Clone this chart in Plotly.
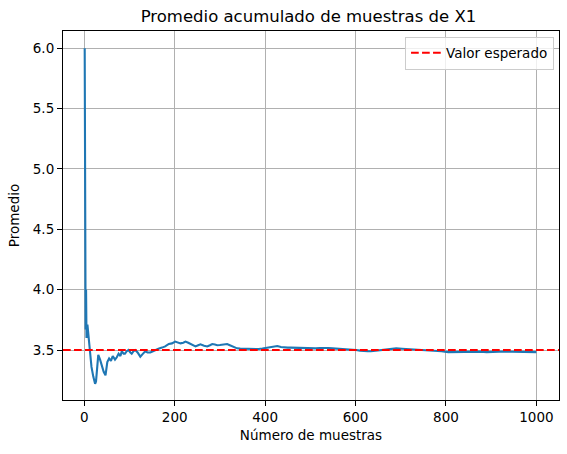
import plotly.graph_objects as go

# Sample counts and cumulative averages
n_samples = [1, 2, 3, 4, 5, 7, 10, 13, 16, 20, 24, 26, 28, 31, 35, 38, 43, 47, 51, 55, 59, 63, 68, 72,
             76, 80, 83, 87, 90, 94, 98, 102, 105, 109, 113, 118, 124, 130, 135, 140, 146, 152, 157,
             164, 172, 179, 187, 194, 201, 207, 213, 219, 224, 230, 235, 241, 246, 252, 257, 265,
             272, 278, 283, 289, 294, 300, 305, 311, 316, 322, 327, 333, 338, 345, 353, 360, 368,
             377, 386, 394, 401, 409, 416, 421, 427, 435, 442, 450, 457, 466, 475, 485, 494, 503,
             512, 521, 531, 540, 549, 558, 568, 577, 586, 594, 601, 610, 620, 627, 634, 644, 653,
             662, 670, 680, 690, 703, 716, 731, 746, 760, 775, 790, 805, 820, 835, 850, 864, 877,
             890, 903, 916, 931, 946, 960, 975, 988, 1000]
running_mean = [6.0, 4.0, 3.67, 4.0, 3.6, 3.71, 3.6, 3.5, 3.36, 3.28, 3.22, 3.24, 3.35, 3.46, 3.42,
                3.38, 3.32, 3.29, 3.40, 3.43, 3.41, 3.45, 3.42, 3.44, 3.47, 3.45, 3.49, 3.47, 3.47,
                3.49, 3.50, 3.48, 3.47, 3.49, 3.50, 3.48, 3.445, 3.47, 3.49, 3.48, 3.48, 3.49, 3.50,
                3.51, 3.52, 3.53, 3.55, 3.555, 3.57, 3.56, 3.555, 3.56, 3.57, 3.56, 3.55, 3.54, 3.53,
                3.54, 3.547, 3.535, 3.53, 3.54, 3.55, 3.545, 3.54, 3.542, 3.544, 3.548, 3.55, 3.54,
                3.53, 3.52, 3.514, 3.512, 3.51, 3.509, 3.508, 3.508, 3.508, 3.512, 3.516, 3.524,
                3.53, 3.532, 3.533, 3.525, 3.52, 3.52, 3.52, 3.518, 3.52, 3.517, 3.514, 3.515,
                3.514, 3.517, 3.52, 3.517, 3.514, 3.512, 3.51, 3.509, 3.508, 3.505, 3.50, 3.495,
                3.49, 3.49, 3.49, 3.495, 3.50, 3.505, 3.508, 3.511, 3.514, 3.511, 3.508, 3.505,
                3.503, 3.50, 3.495, 3.49, 3.483, 3.485, 3.486, 3.488, 3.489, 3.487, 3.483, 3.486,
                3.489, 3.488, 3.486, 3.486, 3.486, 3.485, 3.483]
EXPECTED = 3.5

y_ticks = [3.5, 4.0, 4.5, 5.0, 5.5, 6.0]
x_ticks = [0, 200, 400, 600, 800, 1000]

FONT = "DejaVu Sans"

fig = go.Figure()
fig.add_trace(go.Scatter(
    x=n_samples, y=running_mean, mode="lines",
    line=dict(color="#1f77b4", width=2.1),
    showlegend=False,
))
fig.add_hline(
    y=EXPECTED,
    line=dict(color="red", width=2.1, dash="7.7px,3.3px"),
    showlegend=True, name="Valor esperado", layer="above",
)

axis_common = dict(
    showline=True, linecolor="black", linewidth=1.1, mirror=True,
    ticks="outside", ticklen=5, tickwidth=1.1, tickcolor="black",
    showgrid=True, gridcolor="#b0b0b0", gridwidth=1.1,
    zeroline=False,
    tickfont=dict(family=FONT, size=13.5, color="black"),
)

fig.update_layout(
    width=567, height=454,
    margin=dict(l=63, r=8, t=31, b=54),
    paper_bgcolor="white", plot_bgcolor="white",
    font=dict(family=FONT, color="black"),
    title=dict(text="Promedio acumulado de muestras de X1", x=0.544, xanchor="center",
               y=0.965, yanchor="middle", font=dict(family=FONT, size=16.5, color="black")),
    xaxis=dict(range=[-47, 1050], tickvals=x_ticks,
               title=dict(text="Número de muestras", font=dict(family=FONT, size=13.5), standoff=6),
               **axis_common),
    yaxis=dict(range=[3.086, 6.143], tickvals=y_ticks, tickformat=".1f",
               title=dict(text="Promedio", font=dict(family=FONT, size=13.5), standoff=10),
               **axis_common),
    legend=dict(x=0.99, y=0.985, xanchor="right", yanchor="top",
                bgcolor="rgba(255,255,255,0.8)", bordercolor="#cccccc", borderwidth=1,
                font=dict(family=FONT, size=13.5, color="black")),
)

fig.write_html("out.html")
